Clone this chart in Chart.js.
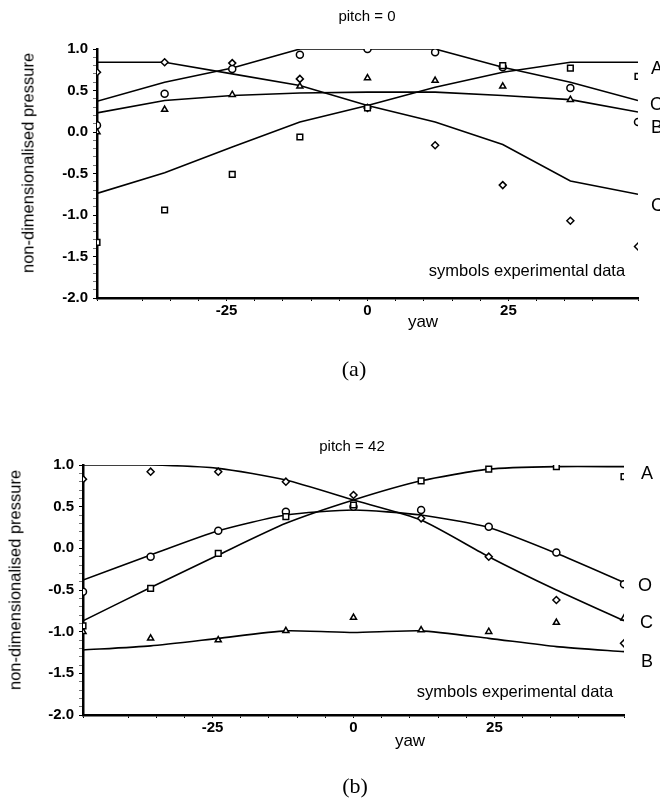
<!DOCTYPE html>
<html>
<head>
<meta charset="utf-8">
<script src="https://cdn.jsdelivr.net/npm/chart.js@4.4.1/dist/chart.umd.min.js"></script>
<style>
  html, body { margin: 0; padding: 0; background: #fff; }
  body { width: 660px; height: 798px; position: relative; overflow: hidden; font-family: "Liberation Sans", Arial, sans-serif; color: #000; }
  .box { position: absolute; left: 0; }
  .txt { position: absolute; white-space: nowrap; transform: translate(-50%, -50%); }
  .lbl { position: absolute; white-space: nowrap; transform: translateY(-50%); font-size: 18px; }
  .ytitle { position: absolute; white-space: nowrap; font-size: 16.5px; transform: translate(-50%, -50%) rotate(-90deg); }
  .cap { position: absolute; font-family: "Liberation Serif", "Times New Roman", serif; font-size: 22px; transform: translate(-50%, -50%); }
</style>
</head>
<body>
<div class="box" style="top:0"><canvas id="chartA" width="660" height="340"></canvas></div>
<div class="box" style="top:400px"><canvas id="chartB" width="660" height="360"></canvas></div>

<!-- text for (a) -->
<div class="txt" style="left:367px; top:15px; font-size:15px">pitch = 0</div>
<div class="ytitle" style="left:28px; top:163px">non-dimensionalised pressure</div>
<div class="txt" style="left:423px; top:322px; font-size:17px">yaw</div>
<div class="txt" style="left:527px; top:270px; font-size:16.5px">symbols experimental data</div>
<div class="lbl" style="left:651px; top:68px">A</div>
<div class="lbl" style="left:650px; top:104px">O</div>
<div class="lbl" style="left:651px; top:127px">B</div>
<div class="lbl" style="left:651px; top:205px">C</div>
<div class="cap" style="left:354px; top:369px">(a)</div>

<!-- text for (b) -->
<div class="txt" style="left:352px; top:445px; font-size:15px">pitch = 42</div>
<div class="ytitle" style="left:15px; top:580px">non-dimensionalised pressure</div>
<div class="txt" style="left:410px; top:741px; font-size:17px">yaw</div>
<div class="txt" style="left:515px; top:691px; font-size:16.5px">symbols experimental data</div>
<div class="lbl" style="left:641px; top:473px">A</div>
<div class="lbl" style="left:638px; top:585px">O</div>
<div class="lbl" style="left:640px; top:622px">C</div>
<div class="lbl" style="left:641px; top:661px">B</div>
<div class="cap" style="left:355px; top:786px">(b)</div>

<script>
const yaw = [-48, -36, -24, -12, 0, 12, 24, 36, 48];
const xTickLabels = [-25, 0, 25];
const yTickLabels = [1.0, 0.5, 0.0, -0.5, -1.0, -1.5, -2.0];

// pitch = 0 : predicted curves
const p0LineA = [-0.74, -0.49, -0.18, 0.12, 0.32, 0.54, 0.72, 0.84, 0.84];
const p0LineO = [0.37, 0.60, 0.77, 1.00, 1.00, 1.00, 0.78, 0.60, 0.38];
const p0LineB = [0.23, 0.38, 0.44, 0.47, 0.48, 0.48, 0.44, 0.39, 0.24];
const p0LineC = [0.84, 0.84, 0.70, 0.56, 0.32, 0.12, -0.15, -0.59, -0.75];
// pitch = 0 : experimental symbols
const p0DataA = [-1.33, -0.94, -0.51, -0.06, 0.29, null, 0.80, 0.77, 0.67];
const p0DataO = [0.08, 0.46, 0.76, 0.93, 1.00, 0.96, 0.78, 0.53, 0.12];
const p0DataB = [0.00, 0.27, 0.45, 0.55, 0.65, 0.62, 0.55, 0.39, null];
const p0DataC = [0.72, 0.84, 0.83, 0.64, 0.29, -0.16, -0.64, -1.07, -1.38];

// pitch = 42 : predicted curves
const p42LineA = [-0.87, -0.47, -0.08, 0.30, 0.58, 0.81, 0.95, 0.98, 0.98];
const p42LineO = [-0.38, -0.08, 0.21, 0.40, 0.46, 0.40, 0.25, -0.06, -0.41];
const p42LineB = [-1.22, -1.17, -1.08, -0.99, -1.01, -0.99, -1.08, -1.18, -1.24];
const p42LineC = [1.00, 1.00, 0.96, 0.82, 0.58, 0.34, -0.10, -0.50, -0.87];
// pitch = 42 : experimental symbols
const p42DataA = [-0.93, -0.48, -0.06, 0.38, 0.52, 0.81, 0.95, 0.98, 0.86];
const p42DataO = [-0.52, -0.10, 0.21, 0.44, 0.50, 0.46, 0.26, -0.05, -0.43];
const p42DataB = [-1.00, -1.08, -1.10, -0.99, -0.83, -0.98, -1.00, -0.89, -0.84];
const p42DataC = [0.83, 0.92, 0.92, 0.80, 0.64, 0.36, -0.10, -0.62, -1.14];

const toPoints = vals => yaw.map((x, i) => ({ x, y: vals[i] })).filter(p => p.y !== null);

function line(vals, tension) {
    return {
        data: toPoints(vals), showLine: true, borderColor: '#000', borderWidth: 1.6,
        pointRadius: 0, tension: tension, order: 2
    };
}

function symbols(vals, style, r) {
    return {
        data: toPoints(vals), showLine: false, pointStyle: style, pointRadius: r,
        borderColor: '#000', backgroundColor: '#fff', pointBorderWidth: 1.5, order: 1
    };
}

const tickFont = { family: 'Liberation Sans', size: 15, weight: 'bold' };
const isLabel = (list, v) => list.some(t => Math.abs(t - v) < 1e-6);

function makeChart(id, datasets, area) {
    new Chart(document.getElementById(id), {
        type: 'scatter',
        data: { datasets },
        options: {
            responsive: false,
            animation: false,
            layout: { padding: { top: area.top, right: area.right, left: 0, bottom: 0 } },
            plugins: { legend: { display: false }, tooltip: { enabled: false } },
            scales: {
                x: {
                    min: -48, max: 48,
                    afterFit: s => { s.height = area.xh; },
                    border: { color: '#000', width: 2.5 },
                    grid: { drawOnChartArea: false, color: '#000', tickLength: 3 },
                    ticks: {
                        stepSize: 5, autoSkip: false, maxRotation: 0, padding: 1,
                        color: '#000', font: tickFont,
                        callback: v => isLabel(xTickLabels, v) ? String(v) : ''
                    }
                },
                y: {
                    min: -2, max: 1,
                    afterFit: s => { s.width = area.yw; },
                    border: { color: '#000', width: 2.5 },
                    grid: {
                        drawOnChartArea: false, tickLength: 4,
                        color: ctx => isLabel(yTickLabels, ctx.tick.value) ? '#000' : '#777'
                    },
                    ticks: {
                        stepSize: 0.1, autoSkip: false, padding: 5,
                        color: '#000', font: tickFont,
                        callback: v => isLabel(yTickLabels, v) ? (Math.round(v * 10) / 10).toFixed(1) : ''
                    }
                }
            }
        }
    });
}

makeChart('chartA', [
    symbols(p0DataA, 'rect', 4), symbols(p0DataO, 'circle', 3.5),
    symbols(p0DataB, 'triangle', 3.5), symbols(p0DataC, 'rectRot', 3.5),
    line(p0LineA, 0), line(p0LineO, 0), line(p0LineB, 0), line(p0LineC, 0)
], { top: 49, right: 22, yw: 97, xh: 42 });

makeChart('chartB', [
    symbols(p42DataA, 'rect', 4), symbols(p42DataO, 'circle', 3.5),
    symbols(p42DataB, 'triangle', 3.5), symbols(p42DataC, 'rectRot', 3.5),
    line(p42LineA, 0.2), line(p42LineO, 0.2), line(p42LineB, 0.2), line(p42LineC, 0.2)
], { top: 65, right: 36, yw: 83, xh: 45 });
</script>
</body>
</html>
